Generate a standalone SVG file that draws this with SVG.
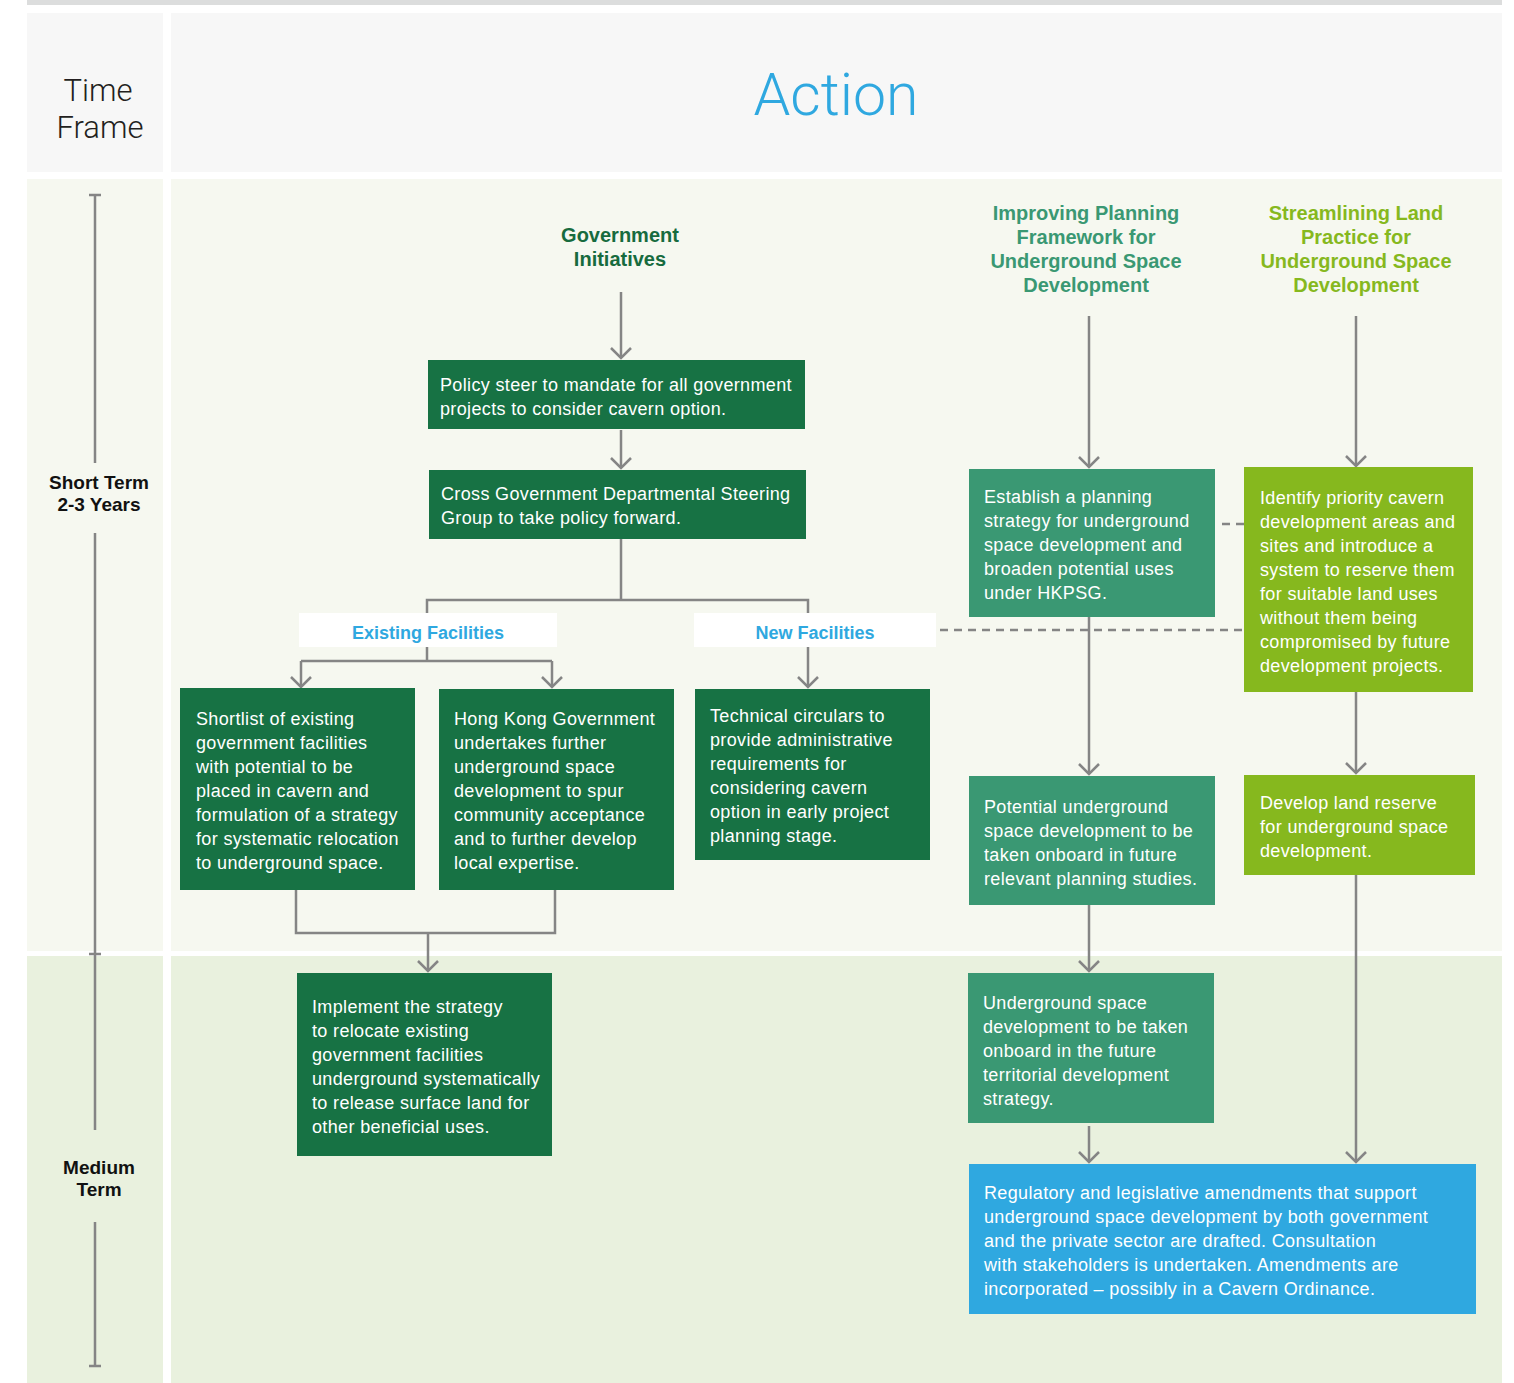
<svg xmlns="http://www.w3.org/2000/svg" width="1514" height="1383" viewBox="0 0 1514 1383">
<defs>
<marker id="ah" markerUnits="userSpaceOnUse" markerWidth="16" markerHeight="24" refX="13" refY="12" orient="auto" viewBox="0 0 16 24">
<path d="M3,2 L13,12 L3,22" fill="none" stroke="#858585" stroke-width="2.5"/>
</marker>
<style>
.bg0{fill:#f7f7f7}
.bg1{fill:#f6f8f0}
.bg2{fill:#e9f1de}
.t{font-family:"Liberation Sans",Arial,sans-serif;font-size:18px;letter-spacing:0.35px;fill:#ffffff}
.dk{fill:#177244}
.md{fill:#3a9873}
.lm{fill:#86b81e}
.bl{fill:#2fa8e0}
.c{fill:none;stroke:#858585;stroke-width:2.5}
.ca{fill:none;stroke:#858585;stroke-width:2.5;marker-end:url(#ah)}
.d{fill:none;stroke:#858585;stroke-width:2.5;stroke-dasharray:8 6}
.h{font-family:"Liberation Sans",Arial,sans-serif;font-size:20px;font-weight:bold;text-anchor:middle}
.lab{font-family:"Liberation Sans",Arial,sans-serif;font-size:18px;font-weight:bold;fill:#2fa8e0;text-anchor:middle}
.tf{font-family:"Liberation Sans",Arial,sans-serif;font-size:19px;font-weight:bold;fill:#111;text-anchor:middle}
.hd{font-family:Roboto,"Liberation Sans",sans-serif;font-weight:300;fill:#231f20;text-anchor:middle}
</style>
</defs>
<rect x="0" y="0" width="1514" height="1383" fill="#ffffff"/>
<rect x="27" y="0" width="1475" height="5" fill="#dcdddd"/>
<g id="header">
<rect class="bg0" x="27" y="13" width="136" height="159"/>
<rect class="bg0" x="171" y="13" width="1331" height="159"/>
<text class="hd" x="98" y="101" font-size="31">Time</text>
<text class="hd" x="100" y="138" font-size="31">Frame</text>
<text class="hd" x="836" y="115" font-size="59" style="fill:#2fa8e0">Action</text>
</g>
<g id="rows">
<rect class="bg1" x="27" y="179" width="136" height="772"/>
<rect class="bg1" x="171" y="179" width="1331" height="772"/>
<rect class="bg2" x="27" y="956" width="136" height="427"/>
<rect class="bg2" x="171" y="956" width="1331" height="427"/>
</g>
<g id="timeline">
<path class="c" d="M95,195 V463 M89,195 H101 M95,533 V1130 M89,954 H101 M95,1222 V1366 M89,1366 H101"/>
<text class="tf" x="99" y="489">Short Term</text>
<text class="tf" x="99" y="511">2-3 Years</text>
<text class="tf" x="99" y="1174">Medium</text>
<text class="tf" x="99" y="1196">Term</text>
</g>
<g id="connectors">
<path class="ca" d="M621,292 V358"/>
<path class="ca" d="M621,430 V468"/>
<path class="c" d="M621,539 V600 M427,613 V600 H808 V613"/>
<path class="c" d="M427,647 V661 M301,661 H552"/>
<path class="ca" d="M301,661 V687"/>
<path class="ca" d="M552,661 V687"/>
<path class="ca" d="M808,647 V687"/>
<path class="c" d="M296,890 V933 H555 V890"/>
<path class="ca" d="M428,933 V971"/>
<path class="ca" d="M1089,316 V467"/>
<path class="ca" d="M1089,617 V774"/>
<path class="ca" d="M1089,905 V971"/>
<path class="ca" d="M1089,1126 V1162"/>
<path class="ca" d="M1356,316 V466"/>
<path class="ca" d="M1356,692 V773"/>
<path class="ca" d="M1356,875 V1162"/>
<path class="d" d="M1222,524 H1244"/>
<path class="d" d="M940,630 H1244"/>
</g>
<g id="head-gov"><text class="h" x="620" y="242" fill="#176b3e">Government</text><text class="h" x="620" y="266" fill="#176b3e">Initiatives</text></g>
<g id="head-plan">
<text class="h" x="1086" y="220" fill="#3a9873">Improving Planning</text>
<text class="h" x="1086" y="244" fill="#3a9873">Framework for</text>
<text class="h" x="1086" y="268" fill="#3a9873">Underground Space</text>
<text class="h" x="1086" y="292" fill="#3a9873">Development</text>
</g>
<g id="head-land">
<text class="h" x="1356" y="220" fill="#86b81e">Streamlining Land</text>
<text class="h" x="1356" y="244" fill="#86b81e">Practice for</text>
<text class="h" x="1356" y="268" fill="#86b81e">Underground Space</text>
<text class="h" x="1356" y="292" fill="#86b81e">Development</text>
</g>
<g id="label-existing"><rect x="299" y="613" width="258" height="34" fill="#fff"/><text class="lab" x="428" y="639">Existing Facilities</text></g>
<g id="label-new"><rect x="694" y="613" width="242" height="34" fill="#fff"/><text class="lab" x="815" y="639">New Facilities</text></g>
<g id="n-policy"><rect class="dk" x="428" y="360" width="377" height="69"/>
<text class="t" x="440" y="391">Policy steer to mandate for all government</text>
<text class="t" x="440" y="415">projects to consider cavern option.</text></g>
<g id="n-cross"><rect class="dk" x="429" y="470" width="377" height="69"/>
<text class="t" x="441" y="500">Cross Government Departmental Steering</text>
<text class="t" x="441" y="524">Group to take policy forward.</text></g>
<g id="n-shortlist"><rect class="dk" x="180" y="688" width="235" height="202"/>
<text class="t" x="196" y="725">Shortlist of existing</text>
<text class="t" x="196" y="749">government facilities</text>
<text class="t" x="196" y="773">with potential to be</text>
<text class="t" x="196" y="797">placed in cavern and</text>
<text class="t" x="196" y="821">formulation of a strategy</text>
<text class="t" x="196" y="845">for systematic relocation</text>
<text class="t" x="196" y="869">to underground space.</text></g>
<g id="n-hk"><rect class="dk" x="439" y="689" width="235" height="201"/>
<text class="t" x="454" y="725">Hong Kong Government</text>
<text class="t" x="454" y="749">undertakes further</text>
<text class="t" x="454" y="773">underground space</text>
<text class="t" x="454" y="797">development to spur</text>
<text class="t" x="454" y="821">community acceptance</text>
<text class="t" x="454" y="845">and to further develop</text>
<text class="t" x="454" y="869">local expertise.</text></g>
<g id="n-tech"><rect class="dk" x="695" y="689" width="235" height="171"/>
<text class="t" x="710" y="722">Technical circulars to</text>
<text class="t" x="710" y="746">provide administrative</text>
<text class="t" x="710" y="770">requirements for</text>
<text class="t" x="710" y="794">considering cavern</text>
<text class="t" x="710" y="818">option in early project</text>
<text class="t" x="710" y="842">planning stage.</text></g>
<g id="n-implement"><rect class="dk" x="297" y="973" width="255" height="183"/>
<text class="t" x="312" y="1013">Implement the strategy</text>
<text class="t" x="312" y="1037">to relocate existing</text>
<text class="t" x="312" y="1061">government facilities</text>
<text class="t" x="312" y="1085">underground systematically</text>
<text class="t" x="312" y="1109">to release surface land for</text>
<text class="t" x="312" y="1133">other beneficial uses.</text></g>
<g id="n-establish"><rect class="md" x="969" y="469" width="246" height="148"/>
<text class="t" x="984" y="503">Establish a planning</text>
<text class="t" x="984" y="527">strategy for underground</text>
<text class="t" x="984" y="551">space development and</text>
<text class="t" x="984" y="575">broaden potential uses</text>
<text class="t" x="984" y="599">under HKPSG.</text></g>
<g id="n-potential"><rect class="md" x="969" y="776" width="246" height="129"/>
<text class="t" x="984" y="813">Potential underground</text>
<text class="t" x="984" y="837">space development to be</text>
<text class="t" x="984" y="861">taken onboard in future</text>
<text class="t" x="984" y="885">relevant planning studies.</text></g>
<g id="n-territorial"><rect class="md" x="968" y="973" width="246" height="150"/>
<text class="t" x="983" y="1009">Underground space</text>
<text class="t" x="983" y="1033">development to be taken</text>
<text class="t" x="983" y="1057">onboard in the future</text>
<text class="t" x="983" y="1081">territorial development</text>
<text class="t" x="983" y="1105">strategy.</text></g>
<g id="n-identify"><rect class="lm" x="1244" y="467" width="229" height="225"/>
<text class="t" x="1260" y="504">Identify priority cavern</text>
<text class="t" x="1260" y="528">development areas and</text>
<text class="t" x="1260" y="552">sites and introduce a</text>
<text class="t" x="1260" y="576">system to reserve them</text>
<text class="t" x="1260" y="600">for suitable land uses</text>
<text class="t" x="1260" y="624">without them being</text>
<text class="t" x="1260" y="648">compromised by future</text>
<text class="t" x="1260" y="672">development projects.</text></g>
<g id="n-reserve"><rect class="lm" x="1244" y="775" width="231" height="100"/>
<text class="t" x="1260" y="809">Develop land reserve</text>
<text class="t" x="1260" y="833">for underground space</text>
<text class="t" x="1260" y="857">development.</text></g>
<g id="n-regulatory"><rect class="bl" x="969" y="1164" width="507" height="150"/>
<text class="t" x="984" y="1199">Regulatory and legislative amendments that support</text>
<text class="t" x="984" y="1223">underground space development by both government</text>
<text class="t" x="984" y="1247">and the private sector are drafted. Consultation</text>
<text class="t" x="984" y="1271">with stakeholders is undertaken. Amendments are</text>
<text class="t" x="984" y="1295">incorporated – possibly in a Cavern Ordinance.</text></g>
</svg>
